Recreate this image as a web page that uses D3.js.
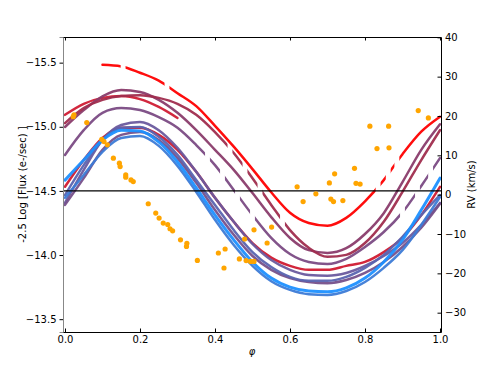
<!DOCTYPE html>
<html>
<head>
<meta charset="utf-8">
<script src="https://cdn.jsdelivr.net/npm/d3@7"></script>
<style>
  body { margin: 0; background: #fff; }
  text { font-family: "DejaVu Sans", sans-serif; }
</style>
</head>
<body>
<div id="chart"></div>
<script>
// phase grid shared by the RV model curves
const phaseGrid = [0, 0.05, 0.1, 0.15, 0.2, 0.25, 0.3, 0.35, 0.4, 0.45, 0.5,
                   0.55, 0.6, 0.65, 0.7, 0.75, 0.8, 0.85, 0.9, 0.95, 1.0];

// RV curves (km/s), red = earliest, blue = latest
const rvBrightRed = [null, null, 33.0, 32.6, 31.0, 29.0, 25.8, 22.5, 17.5, 12.2, 6.5,
                     0.6, -4.6, -7.2, -7.9, -5.9, -1.7, 3.7, 10.3, 16.0, 19.8];
const rvRedShort = [20.3, 23.1, 24.6, 25.1, 24.3, 22.3, 19.5, null, null, null, null,
                    null, null, null, null, null, null, null, null, null, null];
const rvPurpleMaroon = [17.2, 21.5, 25.0, 26.6, 26.1, 24.1, 20.8, 16.4, 11.4, 6.3, 0.4,
                        -5.7, -11.0, -14.1, -14.8, -13.6, -10.0, -4.7, 3.2, 11.4, 17.9];
const rvMaroon = [18.2, 22.0, 24.1, 25.1, 25.3, 24.6, 23.1, 20.3, 15.9, 10.6, 4.2,
                  -2.6, -9.0, -13.5, -15.8, -15.3, -12.3, -6.9, 0.7, 8.8, 16.4];
const rvPurple = [10.1, 16.4, 20.8, 22.0, 21.5, 19.7, 17.0, 12.6, 7.5, 1.2, -5.2,
                  -11.0, -15.1, -17.1, -17.6, -16.3, -13.3, -9.5, -4.5, 2.2, 9.3];
const rvCrimson = [2.0, 8.8, 14.4, 17.0, 17.0, 15.2, 11.4, 5.8, -0.8, -6.9, -12.3,
                   -16.0, -18.1, -19.1, -19.1, -18.1, -17.1, -14.6, -11.0, -5.2, 2.0];
const rvSlatePurple = [-2.1, 6.3, 13.9, 17.7, 18.5, 16.4, 11.9, 5.8, -0.8, -6.9, -12.5,
                       -16.6, -19.1, -20.4, -20.6, -19.9, -18.1, -15.6, -12.3, -7.7, -2.1];
const rvLowPurple = [-2.6, 4.2, 11.4, 15.2, 15.9, 13.9, 9.3, 3.0, -3.9, -10.2, -15.6,
                     -19.1, -21.2, -22.2, -22.5, -21.7, -19.9, -17.1, -13.3, -8.4, -2.3];
const rvSlateBlue = [-0.1, 7.5, 13.9, 17.0, 17.2, 14.7, 10.1, 3.7, -2.6, -9.0, -14.6,
                     -18.4, -20.9, -21.9, -21.9, -20.9, -18.6, -15.3, -10.7, -5.2, -0.1];
const rvBlue = [-0.8, 5.0, 10.9, 14.4, 14.9, 12.4, 7.3, 0.7, -6.4, -12.8, -18.1,
                -22.0, -24.2, -25.3, -25.5, -24.5, -22.2, -18.6, -14.1, -7.7, -0.6];
const rvDodger = [3.7, 8.8, 13.9, 16.4, 16.2, 13.4, 8.3, 1.7, -5.2, -11.5, -17.1,
                  -21.2, -23.5, -24.5, -24.7, -23.7, -21.2, -17.1, -11.5, -3.9, 4.2];

const curveColors = ["#ff0000", "#d01c34", "#8a3c6c", "#a02d4e", "#7b4b84", "#d01a30",
                     "#6a5a9e", "#76508a", "#5a64b0", "#3d7bd6", "#1e90ff"];

// phases where a curve has no coverage (short breaks)
const gapsBrightRed = [0.155, 0.272, 0.835, 0.862, 0.885];
const gapsMaroon = [0.44, 0.48, 0.52, 0.58];
const gapsPurple = [0.38, 0.42, 0.46, 0.5, 0.9, 0.94, 0.975];

// photometry: phase and -2.5 log flux
const photPhase = [0.022, 0.024, 0.058, 0.098, 0.104, 0.113, 0.129, 0.145, 0.147, 0.162,
                   0.162, 0.176, 0.182, 0.222, 0.242, 0.251, 0.262, 0.274, 0.280, 0.287,
                   0.308, 0.325, 0.324, 0.353, 0.409, 0.427, 0.424, 0.465, 0.483, 0.495,
                   0.504, 0.479, 0.504, 0.539, 0.551, 0.619, 0.635, 0.669, 0.705, 0.719,
                   0.709, 0.716, 0.741, 0.772, 0.776, 0.787, 0.813, 0.863, 0.832, 0.864,
                   0.942, 0.969];
const photMag = [-15.079, -15.093, -15.033, -14.902, -14.885, -14.859, -14.755, -14.716, -14.690, -14.625,
                 -14.607, -14.586, -14.573, -14.400, -14.327, -14.288, -14.249, -14.238, -14.205, -14.189,
                 -14.119, -14.092, -14.067, -13.958, -14.016, -14.047, -13.899, -13.970, -13.957, -13.950,
                 -13.950, -14.125, -14.197, -14.094, -14.218, -14.532, -14.417, -14.477, -14.562, -14.633,
                 -14.436, -14.417, -14.425, -14.676, -14.559, -14.553, -15.005, -15.005, -14.830, -14.836,
                 -15.126, -15.069];

const fluxTicks = [-15.5, -15.0, -14.5, -14.0, -13.5];
const rvTicks = [-30, -20, -10, 0, 10, 20, 30, 40];
const phaseTicks = [0, 0.2, 0.4, 0.6, 0.8, 1.0];

const width = 491, height = 370;
const margin = {top: 37, right: 50, bottom: 38, left: 63};

const svg = d3.select("#chart").append("svg")
    .attr("width", width)
    .attr("height", height);

const x = d3.scaleLinear().domain([-0.0053, 1.0027]).range([margin.left, width - margin.right]);
const yFlux = d3.scaleLinear().domain([-15.7, -13.4]).range([margin.top, height - margin.bottom]);
const yRV = d3.scaleLinear().domain([-34.91, 40.08]).range([height - margin.bottom, margin.top]);

const defs = svg.append("defs");
const plot = svg.append("g");

// RV curves
const rvSeries = [rvBrightRed, rvRedShort, rvPurpleMaroon, rvMaroon, rvPurple, rvCrimson,
                  rvSlatePurple, rvLowPurple, rvSlateBlue, rvBlue, rvDodger];
const rvGaps = [gapsBrightRed, [], [], gapsMaroon, gapsPurple, [], [], [], [], [], []];
const gapHalf = 0.0065;

const line = d3.line()
    .defined(d => d[1] !== null)
    .x(d => x(d[0]))
    .y(d => yRV(d[1]))
    .curve(d3.curveMonotoneX);

rvSeries.forEach((vals, i) => {
  const pts = phaseGrid.map((p, j) => [p, vals[j]]);
  const path = plot.append("path")
      .attr("d", line(pts))
      .attr("fill", "none")
      .attr("stroke", curveColors[i])
      .attr("stroke-width", i === rvSeries.length - 1 ? 3 : 2.5)
      .attr("stroke-linecap", "round")
      .attr("opacity", 0.95);

  const gaps = rvGaps[i];
  if (gaps.length) {
    const edges = [-0.05].concat(...gaps.map(g => [g - gapHalf, g + gapHalf]), [1.05]);
    const clip = defs.append("clipPath").attr("id", "clip" + i);
    for (let k = 0; k < edges.length; k += 2) {
      clip.append("rect")
          .attr("x", x(edges[k]))
          .attr("width", x(edges[k + 1]) - x(edges[k]))
          .attr("y", 0)
          .attr("height", height);
    }
    path.attr("clip-path", `url(#clip${i})`);
  }
});

// horizontal reference line
plot.append("line")
    .attr("x1", margin.left).attr("x2", width - margin.right)
    .attr("y1", yFlux(-14.5)).attr("y2", yFlux(-14.5))
    .attr("stroke", "#000").attr("stroke-width", 1.3);

// photometry points
plot.selectAll("circle")
    .data(photPhase.map((p, i) => [p, photMag[i]]))
    .enter().append("circle")
    .attr("cx", d => x(d[0]))
    .attr("cy", d => yFlux(d[1]))
    .attr("r", 2.6)
    .attr("fill", "#ffa500");

// axes
const axLeft = svg.append("g")
    .attr("transform", `translate(${margin.left},0)`)
    .call(d3.axisLeft(yFlux).tickValues(fluxTicks).tickFormat(d3.format(".1f")).tickSize(3.5).tickPadding(3));
axLeft.select(".domain").attr("stroke", "#888");

svg.append("g")
    .attr("transform", `translate(${width - margin.right},0)`)
    .call(d3.axisRight(yRV).tickValues(rvTicks).tickSizeInner(-3.5).tickSizeOuter(0).tickPadding(4));

svg.append("g")
    .attr("transform", `translate(0,${height - margin.bottom})`)
    .call(d3.axisBottom(x).tickValues(phaseTicks).tickFormat(d3.format(".1f")).tickSizeInner(-3.5).tickSizeOuter(0).tickPadding(4));

svg.append("g")
    .attr("transform", `translate(0,${margin.top})`)
    .call(d3.axisTop(x).tickValues(phaseTicks).tickFormat("").tickSizeInner(-3.5).tickSizeOuter(0));

svg.selectAll(".tick text").attr("font-size", 10).attr("fill", "#000").style("font-family", "DejaVu Sans");

// axis titles
svg.append("text")
    .attr("transform", `translate(23,${(margin.top + height - margin.bottom) / 2}) rotate(-90)`)
    .attr("text-anchor", "middle")
    .attr("dominant-baseline", "middle")
    .attr("font-size", 10)
    .text("-2.5 Log [Flux (e-/sec) ]");

svg.append("text")
    .attr("transform", `translate(472,${(margin.top + height - margin.bottom) / 2}) rotate(-90)`)
    .attr("text-anchor", "middle")
    .attr("dominant-baseline", "middle")
    .attr("font-size", 10)
    .text("RV (km/s)");

svg.append("text")
    .attr("x", (margin.left + width - margin.right) / 2)
    .attr("y", 355)
    .attr("text-anchor", "middle")
    .attr("font-size", 10)
    .attr("font-style", "italic")
    .text("φ");
</script>
</body>
</html>
